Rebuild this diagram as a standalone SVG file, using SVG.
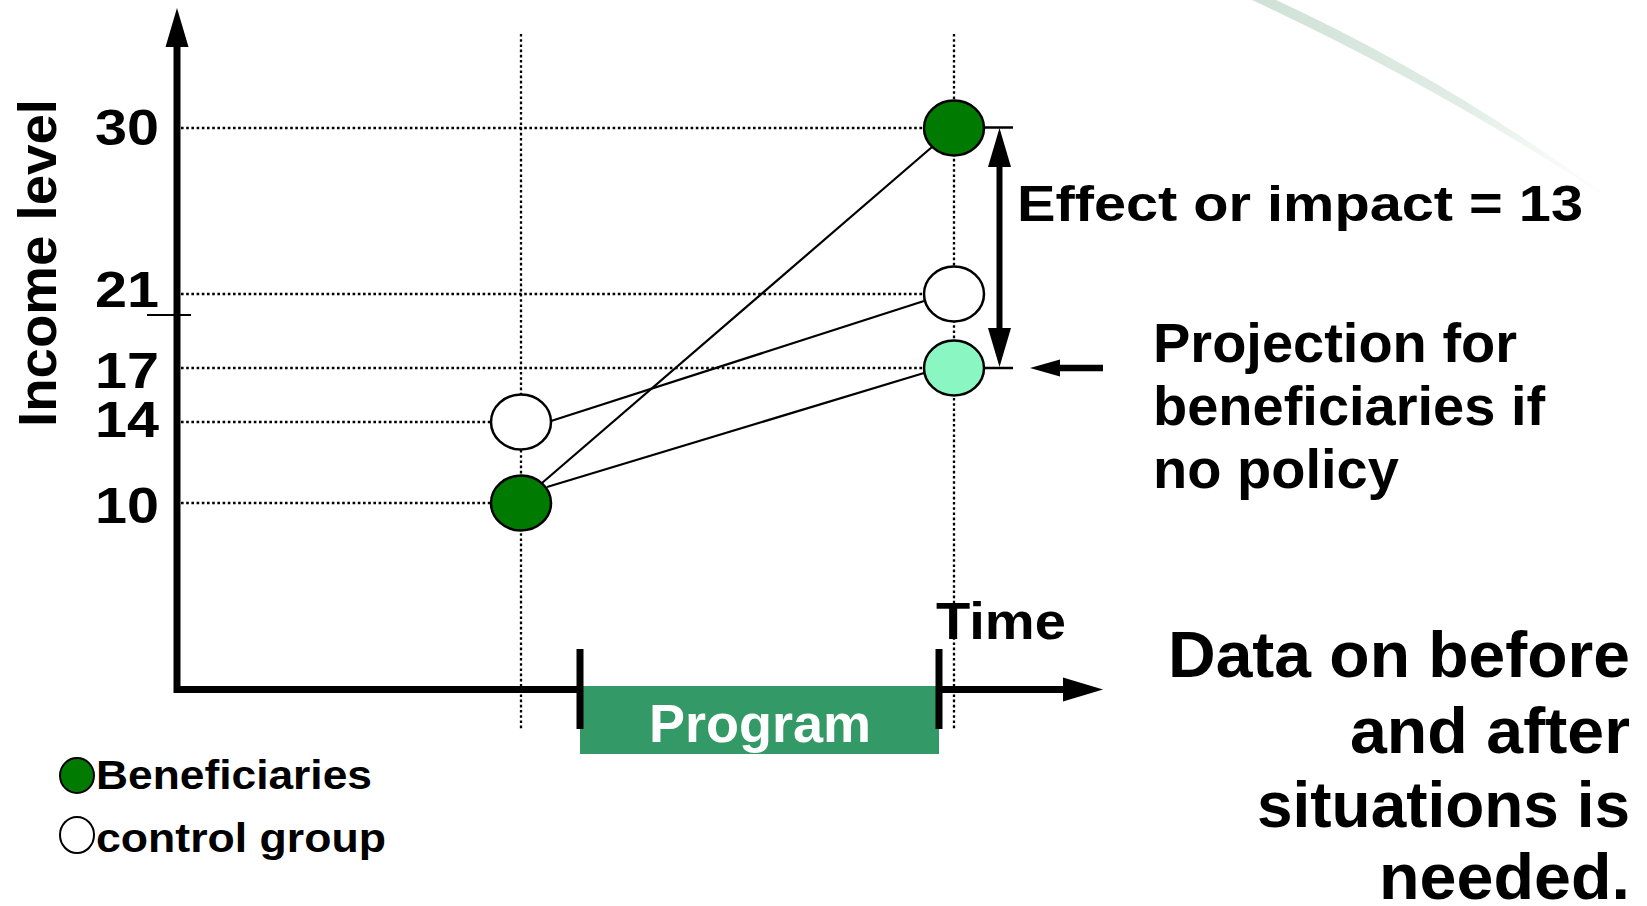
<svg xmlns="http://www.w3.org/2000/svg" width="1647" height="906" viewBox="0 0 1647 906">
  <style>
    .lbl { font-family: "Liberation Sans", Arial, sans-serif; font-weight: bold; fill: #000; }
    .grid { stroke: #000; stroke-width: 2.3; stroke-dasharray: 2.6 2.6; fill: none; }
    .axis { stroke: #000; stroke-width: 7; fill: none; }
    .link { stroke: #000; stroke-width: 2.2; fill: none; }
    .pt { stroke: #000; stroke-width: 2.5; }
    .ben { fill: #007a00; }
    .ctl { fill: #ffffff; }
    .proj { fill: #8af7c3; }
  </style>
  <defs>
    <linearGradient id="swooshFade" gradientUnits="userSpaceOnUse" x1="1255" y1="0" x2="1625" y2="210">
      <stop offset="0" stop-color="#cfe1d7" stop-opacity="1"/>
      <stop offset="0.55" stop-color="#d9e8df" stop-opacity="0.8"/>
      <stop offset="1" stop-color="#eef5f1" stop-opacity="0"/>
    </linearGradient>
  </defs>

  <rect width="1647" height="906" fill="#ffffff"/>

  <!-- decorative swoosh, top right -->
  <path d="M1276,0 Q1458,84 1628,212 Q1450,92 1252,0 Z" fill="url(#swooshFade)"/>

  <!-- grid: income levels and the two observation times -->
  <g id="grid">
    <line class="grid" x1="181" y1="128" x2="954" y2="128"/>
    <line class="grid" x1="181" y1="294" x2="954" y2="294"/>
    <line class="grid" x1="181" y1="368" x2="954" y2="368"/>
    <line class="grid" x1="181" y1="422" x2="521" y2="422"/>
    <line class="grid" x1="181" y1="503" x2="521" y2="503"/>
    <line class="grid" x1="521" y1="34" x2="521" y2="729"/>
    <line class="grid" x1="954" y1="34" x2="954" y2="729"/>
  </g>

  <!-- axes -->
  <g id="axes">
    <line class="axis" x1="177" y1="44" x2="177" y2="693"/>
    <polygon points="165.5,47 177,8 188.5,47" fill="#000"/>
    <line class="axis" x1="174" y1="689.5" x2="1064" y2="689.5"/>
    <polygon points="1063,677.5 1103,689.5 1063,701.5" fill="#000"/>
    <line x1="147" y1="315" x2="191" y2="315" stroke="#000" stroke-width="2"/>
  </g>

  <!-- program period -->
  <g id="program">
    <rect x="580" y="686" width="359" height="68" fill="#339966"/>
    <line class="axis" x1="580" y1="649" x2="580" y2="729"/>
    <line class="axis" x1="939" y1="649" x2="939" y2="729"/>
    <text class="lbl" x="760" y="742" font-size="54" text-anchor="middle" style="fill:#ffffff">Program</text>
  </g>

  <!-- axis labels -->
  <g id="axis-labels">
    <text class="lbl" x="56" y="263" font-size="53" text-anchor="middle" textLength="328" lengthAdjust="spacingAndGlyphs" transform="rotate(-90 56 263)">Income level</text>
    <text class="lbl" x="159" y="145" font-size="50" text-anchor="end" textLength="64" lengthAdjust="spacingAndGlyphs">30</text>
    <text class="lbl" x="159" y="307" font-size="50" text-anchor="end" textLength="64" lengthAdjust="spacingAndGlyphs">21</text>
    <text class="lbl" x="159" y="388" font-size="50" text-anchor="end" textLength="64" lengthAdjust="spacingAndGlyphs">17</text>
    <text class="lbl" x="159" y="437" font-size="50" text-anchor="end" textLength="64" lengthAdjust="spacingAndGlyphs">14</text>
    <text class="lbl" x="159" y="523" font-size="50" text-anchor="end" textLength="64" lengthAdjust="spacingAndGlyphs">10</text>
    <text class="lbl" x="936" y="639" font-size="52" textLength="130" lengthAdjust="spacingAndGlyphs">Time</text>
  </g>

  <!-- connectors between before and after observations -->
  <g id="connectors">
    <line class="link" x1="542" y1="483" x2="932" y2="147"/>
    <line class="link" x1="551" y1="421" x2="924" y2="301"/>
    <line class="link" x1="547" y1="487" x2="924" y2="373"/>
  </g>

  <!-- observations -->
  <g id="ben-before"><ellipse class="pt ben" cx="521" cy="503" rx="30" ry="27.5"/></g>
  <g id="ctl-before"><ellipse class="pt ctl" cx="521" cy="422" rx="30" ry="27.5"/></g>
  <g id="ben-after"><ellipse class="pt ben" cx="954" cy="128" rx="30" ry="27.5"/></g>
  <g id="ctl-after"><ellipse class="pt ctl" cx="954" cy="294" rx="30" ry="27.5"/></g>
  <g id="ben-projection"><ellipse class="pt proj" cx="954" cy="368" rx="30" ry="27.5"/></g>

  <!-- impact measure -->
  <g id="impact">
    <line x1="984" y1="127.5" x2="1013" y2="127.5" stroke="#000" stroke-width="2.5"/>
    <line x1="984" y1="368" x2="1013" y2="368" stroke="#000" stroke-width="2.5"/>
    <line x1="999.5" y1="160" x2="999.5" y2="336" stroke="#000" stroke-width="6"/>
    <polygon points="988,167 999.5,128 1011,167" fill="#000"/>
    <polygon points="988,328 999.5,367 1011,328" fill="#000"/>
    <text class="lbl" x="1017" y="221" font-size="50" textLength="566" lengthAdjust="spacingAndGlyphs">Effect or impact = 13</text>
  </g>

  <!-- projection note -->
  <g id="projection-note">
    <line x1="1055" y1="368" x2="1103" y2="368" stroke="#000" stroke-width="6.5"/>
    <polygon points="1060,359.5 1030,368 1060,376.5" fill="#000"/>
    <text class="lbl" font-size="56">
      <tspan x="1153" y="362">Projection for</tspan>
      <tspan x="1153" y="425">beneficiaries if</tspan>
      <tspan x="1153" y="488">no policy</tspan>
    </text>
  </g>

  <!-- conclusion -->
  <g id="conclusion">
    <text class="lbl" x="1630" y="677" font-size="65" text-anchor="end" textLength="462" lengthAdjust="spacingAndGlyphs">Data on before</text>
    <text class="lbl" x="1630" y="753" font-size="65" text-anchor="end" textLength="280" lengthAdjust="spacingAndGlyphs">and after</text>
    <text class="lbl" x="1630" y="827" font-size="65" text-anchor="end" textLength="373" lengthAdjust="spacingAndGlyphs">situations is</text>
    <text class="lbl" x="1630" y="899" font-size="65" text-anchor="end" textLength="251" lengthAdjust="spacingAndGlyphs">needed.</text>
  </g>

  <!-- legend -->
  <g id="legend">
    <ellipse cx="77" cy="775.5" rx="17" ry="17.5" fill="#007a00" stroke="#000" stroke-width="2"/>
    <text class="lbl" x="96" y="789" font-size="41" textLength="276" lengthAdjust="spacingAndGlyphs">Beneficiaries</text>
    <ellipse cx="77" cy="835" rx="17" ry="18" fill="#ffffff" stroke="#000" stroke-width="2"/>
    <text class="lbl" x="96" y="852" font-size="41" textLength="290" lengthAdjust="spacingAndGlyphs">control group</text>
  </g>
</svg>
